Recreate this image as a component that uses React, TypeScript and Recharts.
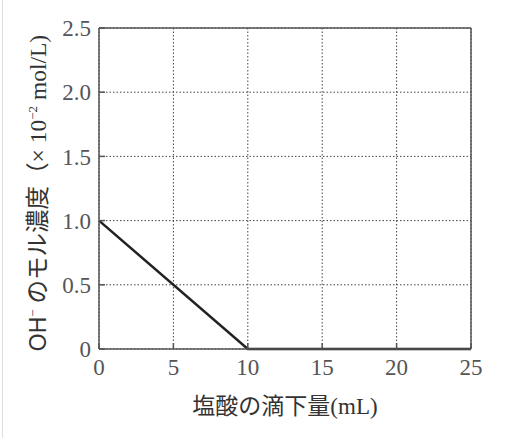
import { CartesianGrid, Line, LineChart, ReferenceLine, XAxis, YAxis } from 'recharts';

const volumes = [0, 10, 25];
const ohConc = [1.0, 0, 0];
const xTicks = [0, 5, 10, 15, 20, 25];
const yTicks = [0, 0.5, 1.0, 1.5, 2.0, 2.5];

const data = volumes.map((v, i) => ({ v, c: ohConc[i] }));

const serif = "'Liberation Serif', 'DejaVu Serif', 'Noto Sans CJK JP', serif";
const jp = "'Liberation Serif', 'Noto Sans CJK JP', serif";

const fmtY = (v: number) => (v === 0 ? '0' : v.toFixed(1));

// rotated y-axis title, drawn by hand so the superscripts sit right
const YLabel = () => (
  <text
    transform="translate(46, 193) rotate(-90)"
    textAnchor="middle"
    fill="#333"
    fontSize={23.5}
    fontFamily={jp}
  >
    <tspan fontFamily="'Liberation Sans', 'DejaVu Sans', sans-serif" fontSize={23}>OH</tspan>
    <tspan fontSize={13} dy={-9}>−</tspan>
    <tspan dy={9}> のモル濃度（× 10</tspan>
    <tspan fontSize={13} dy={-9}>−2</tspan>
    <tspan dy={9}> mol/L)</tspan>
  </text>
);

export default function App() {
  return (
    <div style={{ position: 'absolute', left: 0, top: 0, width: 530, height: 438, background: '#fff' }}>
      <div style={{ position: 'absolute', left: 2, top: 0, width: 1, height: 438, background: '#ddd' }} />
      <LineChart width={530} height={438} data={data} margin={{ top: 28, right: 59, left: 0, bottom: 0 }}>
        <CartesianGrid stroke="#444" strokeDasharray="1.5 2" strokeWidth={1} />
        <XAxis
          dataKey="v"
          type="number"
          domain={[0, 25]}
          ticks={xTicks}
          height={89}
          stroke="#555"
          strokeWidth={1.5}
          tickSize={-6}
          tickMargin={16}
          tick={{ fill: '#555', fontSize: 23, fontFamily: serif }}
          label={{ value: '塩酸の滴下量(mL)', position: 'insideBottom', offset: 24, fill: '#333', fontSize: 23, fontFamily: jp }}
        />
        <YAxis
          type="number"
          domain={[0, 2.5]}
          ticks={yTicks}
          width={99}
          stroke="#555"
          strokeWidth={1.5}
          tickSize={-6}
          tickMargin={14}
          tickFormatter={fmtY}
          tick={{ fill: '#555', fontSize: 23, fontFamily: serif }}
          label={<YLabel />}
        />
        <ReferenceLine y={2.5} stroke="#555" strokeWidth={1.5} />
        <ReferenceLine x={25} stroke="#555" strokeWidth={1.5} />
        <Line
          dataKey="c"
          type="linear"
          stroke="#222"
          strokeWidth={2.5}
          dot={false}
          isAnimationActive={false}
        />
      </LineChart>
    </div>
  );
}
